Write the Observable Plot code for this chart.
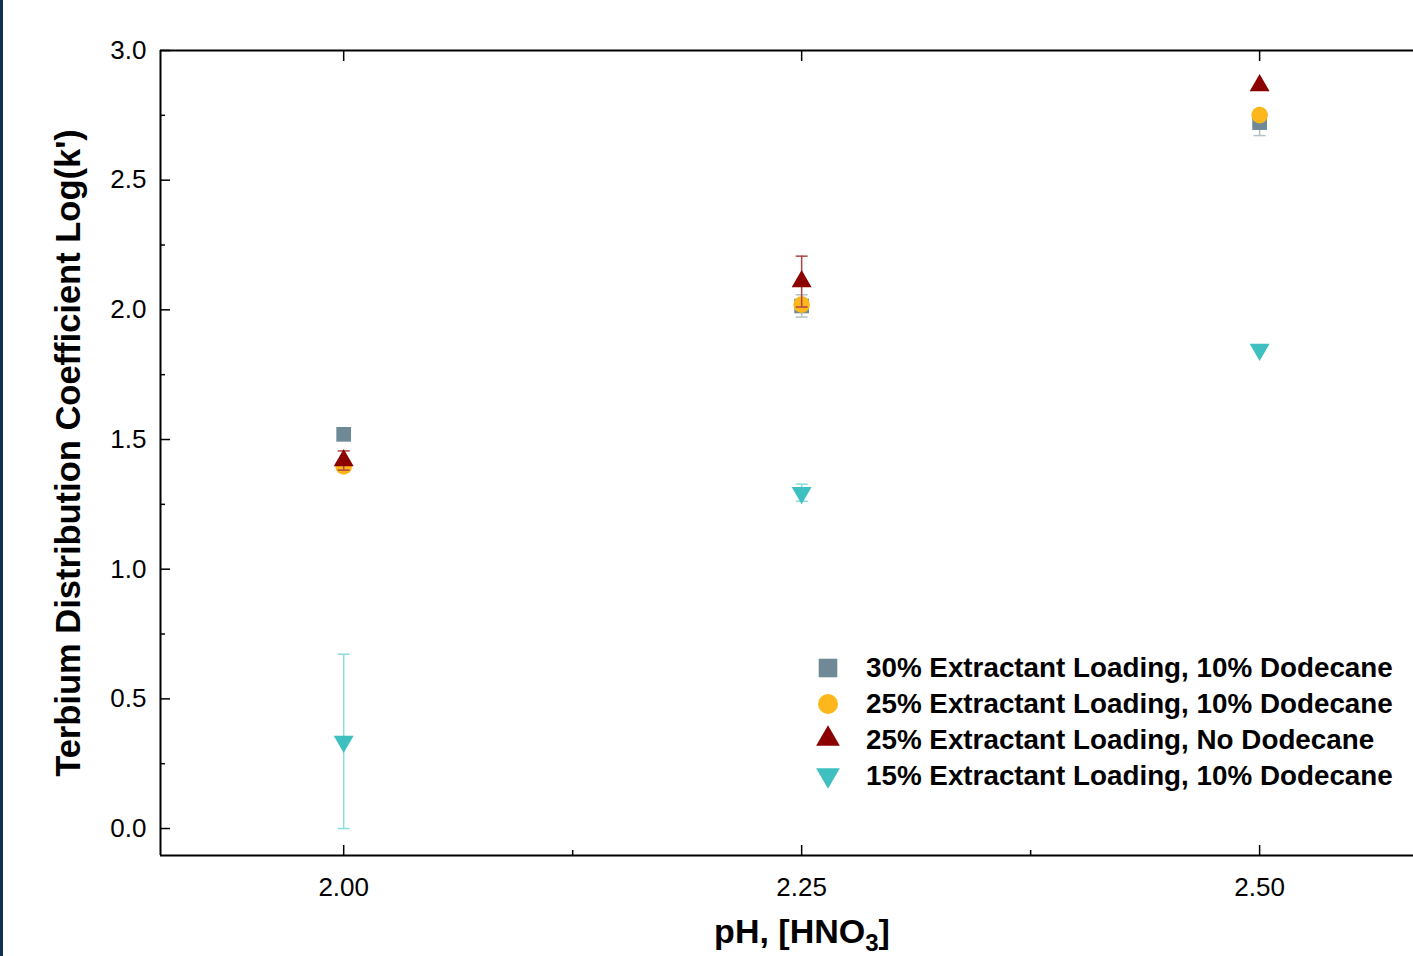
<!DOCTYPE html>
<html><head><meta charset="utf-8">
<script src="https://cdn.jsdelivr.net/npm/d3@7"></script>
<script src="https://cdn.jsdelivr.net/npm/@observablehq/plot@0.6"></script>
<style>
html,body{margin:0;padding:0;background:#fff;overflow:hidden;}
#wrap{position:relative;width:1413px;height:956px;font-family:"Liberation Sans",Arial,sans-serif;}
#edge{position:absolute;left:0;top:0;width:3px;height:956px;background:#12304f;}
.legtxt{position:absolute;font-weight:bold;font-size:27.8px;line-height:27.8px;white-space:nowrap;color:#000;}
</style></head><body><div id="wrap"><div id="edge"></div></div>
<script>
// ---- data ----
const phValues = [2.00, 2.25, 2.50];
const seriesNames = [
  "30% Extractant Loading, 10% Dodecane",
  "25% Extractant Loading, 10% Dodecane",
  "25% Extractant Loading, No Dodecane",
  "15% Extractant Loading, 10% Dodecane"
];
const load30Dod10 = [1.52, 2.015, 2.722];
const load30Dod10Err = [0, 0.043, 0.05];
const load25Dod10 = [1.396, 2.02, 2.751];
const load25Dod10Err = [0, 0, 0];
const load25NoDod = [1.419, 2.109, 2.865];
const load25NoDodErr = [0.037, 0.098, 0];
const load15Dod10 = [0.336, 1.295, 1.847];
const load15Dod10Err = [0.336, 0.033, 0];
const yTicksMajor = [0, 0.5, 1.0, 1.5, 2.0, 2.5, 3.0];
const yTicksMinor = [0.25, 0.75, 1.25, 1.75, 2.25, 2.75];
const xTicksMajor = [2.00, 2.25, 2.50];
const xTicksMinor = [2.125, 2.375];
const xTitleMain = "pH, [HNO";
const xTitleSub = "3";
const xTitleEnd = "]";
const xTitle = xTitleMain + xTitleSub + xTitleEnd;
const yTitle = "Terbium Distribution Coefficient Log(k')";

// ---- symbols ----
const triangleDown = {draw(ctx, size) {
  const y = Math.sqrt(size / (3 * Math.sqrt(3)));
  ctx.moveTo(0, 2 * y); ctx.lineTo(-Math.sqrt(3) * y, -y); ctx.lineTo(Math.sqrt(3) * y, -y); ctx.closePath();
}};
const capSymbol = {draw(ctx) { ctx.moveTo(-6, 0); ctx.lineTo(6, 0); }};

const series = [
  {name: seriesNames[0], values: load30Dod10, errs: load30Dod10Err, symbol: d3.symbolSquare, fill: "#6f8a96", err: "#b3c1c7", r: 8.3, lr: 10.5},
  {name: seriesNames[1], values: load25Dod10, errs: load25Dod10Err, symbol: d3.symbolCircle, fill: "#fdb71a", err: "#e0b060", r: 8.3, lr: 10},
  {name: seriesNames[2], values: load25NoDod, errs: load25NoDodErr, symbol: d3.symbolTriangle, fill: "#8b0000", err: "#b04444", r: 7.4, lr: 8.8},
  {name: seriesNames[3], values: load15Dod10, errs: load15Dod10Err, symbol: triangleDown, fill: "#3fc0c0", err: "#8cdcdc", r: 7.4, lr: 8.8}
];

const xDomain = [1.9, 2.584];
const yDomain = [-0.104, 3.0];

const dataMarks = [];
for (const s of series) {
  const rows = phValues.map((ph, i) => ({ph, v: s.values[i], e: s.errs[i]}));
  const withErr = rows.filter(d => d.e > 0);
  dataMarks.push(Plot.ruleX(withErr, {x: "ph", y1: d => d.v - d.e, y2: d => d.v + d.e, stroke: s.err, strokeWidth: 1.5}));
  dataMarks.push(Plot.dot(withErr.flatMap(d => [{ph: d.ph, y: d.v - d.e}, {ph: d.ph, y: d.v + d.e}]),
    {x: "ph", y: "y", symbol: capSymbol, r: 2, stroke: s.err, fill: "none", strokeWidth: 1.5}));
  dataMarks.push(Plot.dot(rows, {x: "ph", y: "v", symbol: s.symbol, r: s.r, fill: s.fill, stroke: "none"}));
}

const chart = Plot.plot({
  width: 1413, height: 956,
  marginLeft: 160, marginRight: 0, marginTop: 50, marginBottom: 101,
  style: {fontFamily: "Liberation Sans, Arial, sans-serif", fontSize: "26px", color: "#000", background: "transparent", overflow: "visible"},
  x: {domain: xDomain},
  y: {domain: yDomain},
  marks: [
    Plot.axisY({ticks: yTicksMajor, tickSize: 0, tickPadding: 14, tickFormat: d3.format(".1f"), label: null, fontSize: 26}),
    Plot.axisY({ticks: yTicksMajor, tickSize: -10, tickFormat: () => "", label: null, strokeWidth: 1.5}),
    Plot.axisY({ticks: yTicksMinor, tickSize: -5, tickFormat: () => "", label: null, strokeWidth: 1.5}),
    Plot.axisX({ticks: xTicksMajor, tickSize: 0, tickPadding: 22, tickFormat: d3.format(".2f"), label: null, fontSize: 26}),
    Plot.axisX({ticks: xTicksMajor, tickSize: -10, tickFormat: () => "", label: null, strokeWidth: 1.5}),
    Plot.axisX({ticks: xTicksMinor, tickSize: -5, tickFormat: () => "", label: null, strokeWidth: 1.5}),
    Plot.axisX({anchor: "top", ticks: xTicksMajor, tickSize: -10, tickFormat: () => "", label: null, strokeWidth: 1.5}),
    Plot.ruleX([xDomain[0]], {stroke: "#000", strokeWidth: 2}),
    Plot.ruleY([yDomain[0], yDomain[1]], {stroke: "#000", strokeWidth: 2}),
    ...dataMarks,
    Plot.text([xTitle], {frameAnchor: "bottom", dy: 77, dx: 15, fontSize: 34, fontWeight: "bold", lineAnchor: "middle"}),
    Plot.text([yTitle], {frameAnchor: "left", dx: -92, rotate: -90, fontSize: 34.5, fontWeight: "bold", textAnchor: "middle", lineAnchor: "middle"})
  ]
});
chart.style.position = "absolute";
chart.style.left = "0px";
chart.style.top = "0px";
document.getElementById("wrap").appendChild(chart);

// subscript in the x title
d3.select(chart).selectAll("text").filter(function() { return this.textContent === xTitle; }).each(function() {
  const t = d3.select(this);
  t.text(null);
  t.append("tspan").text(xTitleMain);
  t.append("tspan").attr("dy", 8).attr("font-size", 24).text(xTitleSub);
  t.append("tspan").attr("dy", -8).text(xTitleEnd);
});

// legend
const leg = d3.select("#wrap");
series.forEach((s, i) => {
  const cy = 668 + i * 35.7;
  const svg = leg.append("svg").attr("width", 40).attr("height", 40)
    .style("position", "absolute").style("left", (828 - 20) + "px").style("top", (cy - 20) + "px");
  svg.append("path").attr("transform", "translate(20,20)")
    .attr("d", d3.symbol(s.symbol, Math.PI * s.lr * s.lr)()).attr("fill", s.fill);
  leg.append("div").attr("class", "legtxt").style("left", "866px").style("top", (cy - 13.6) + "px").text(s.name);
});
</script>
</body></html>
